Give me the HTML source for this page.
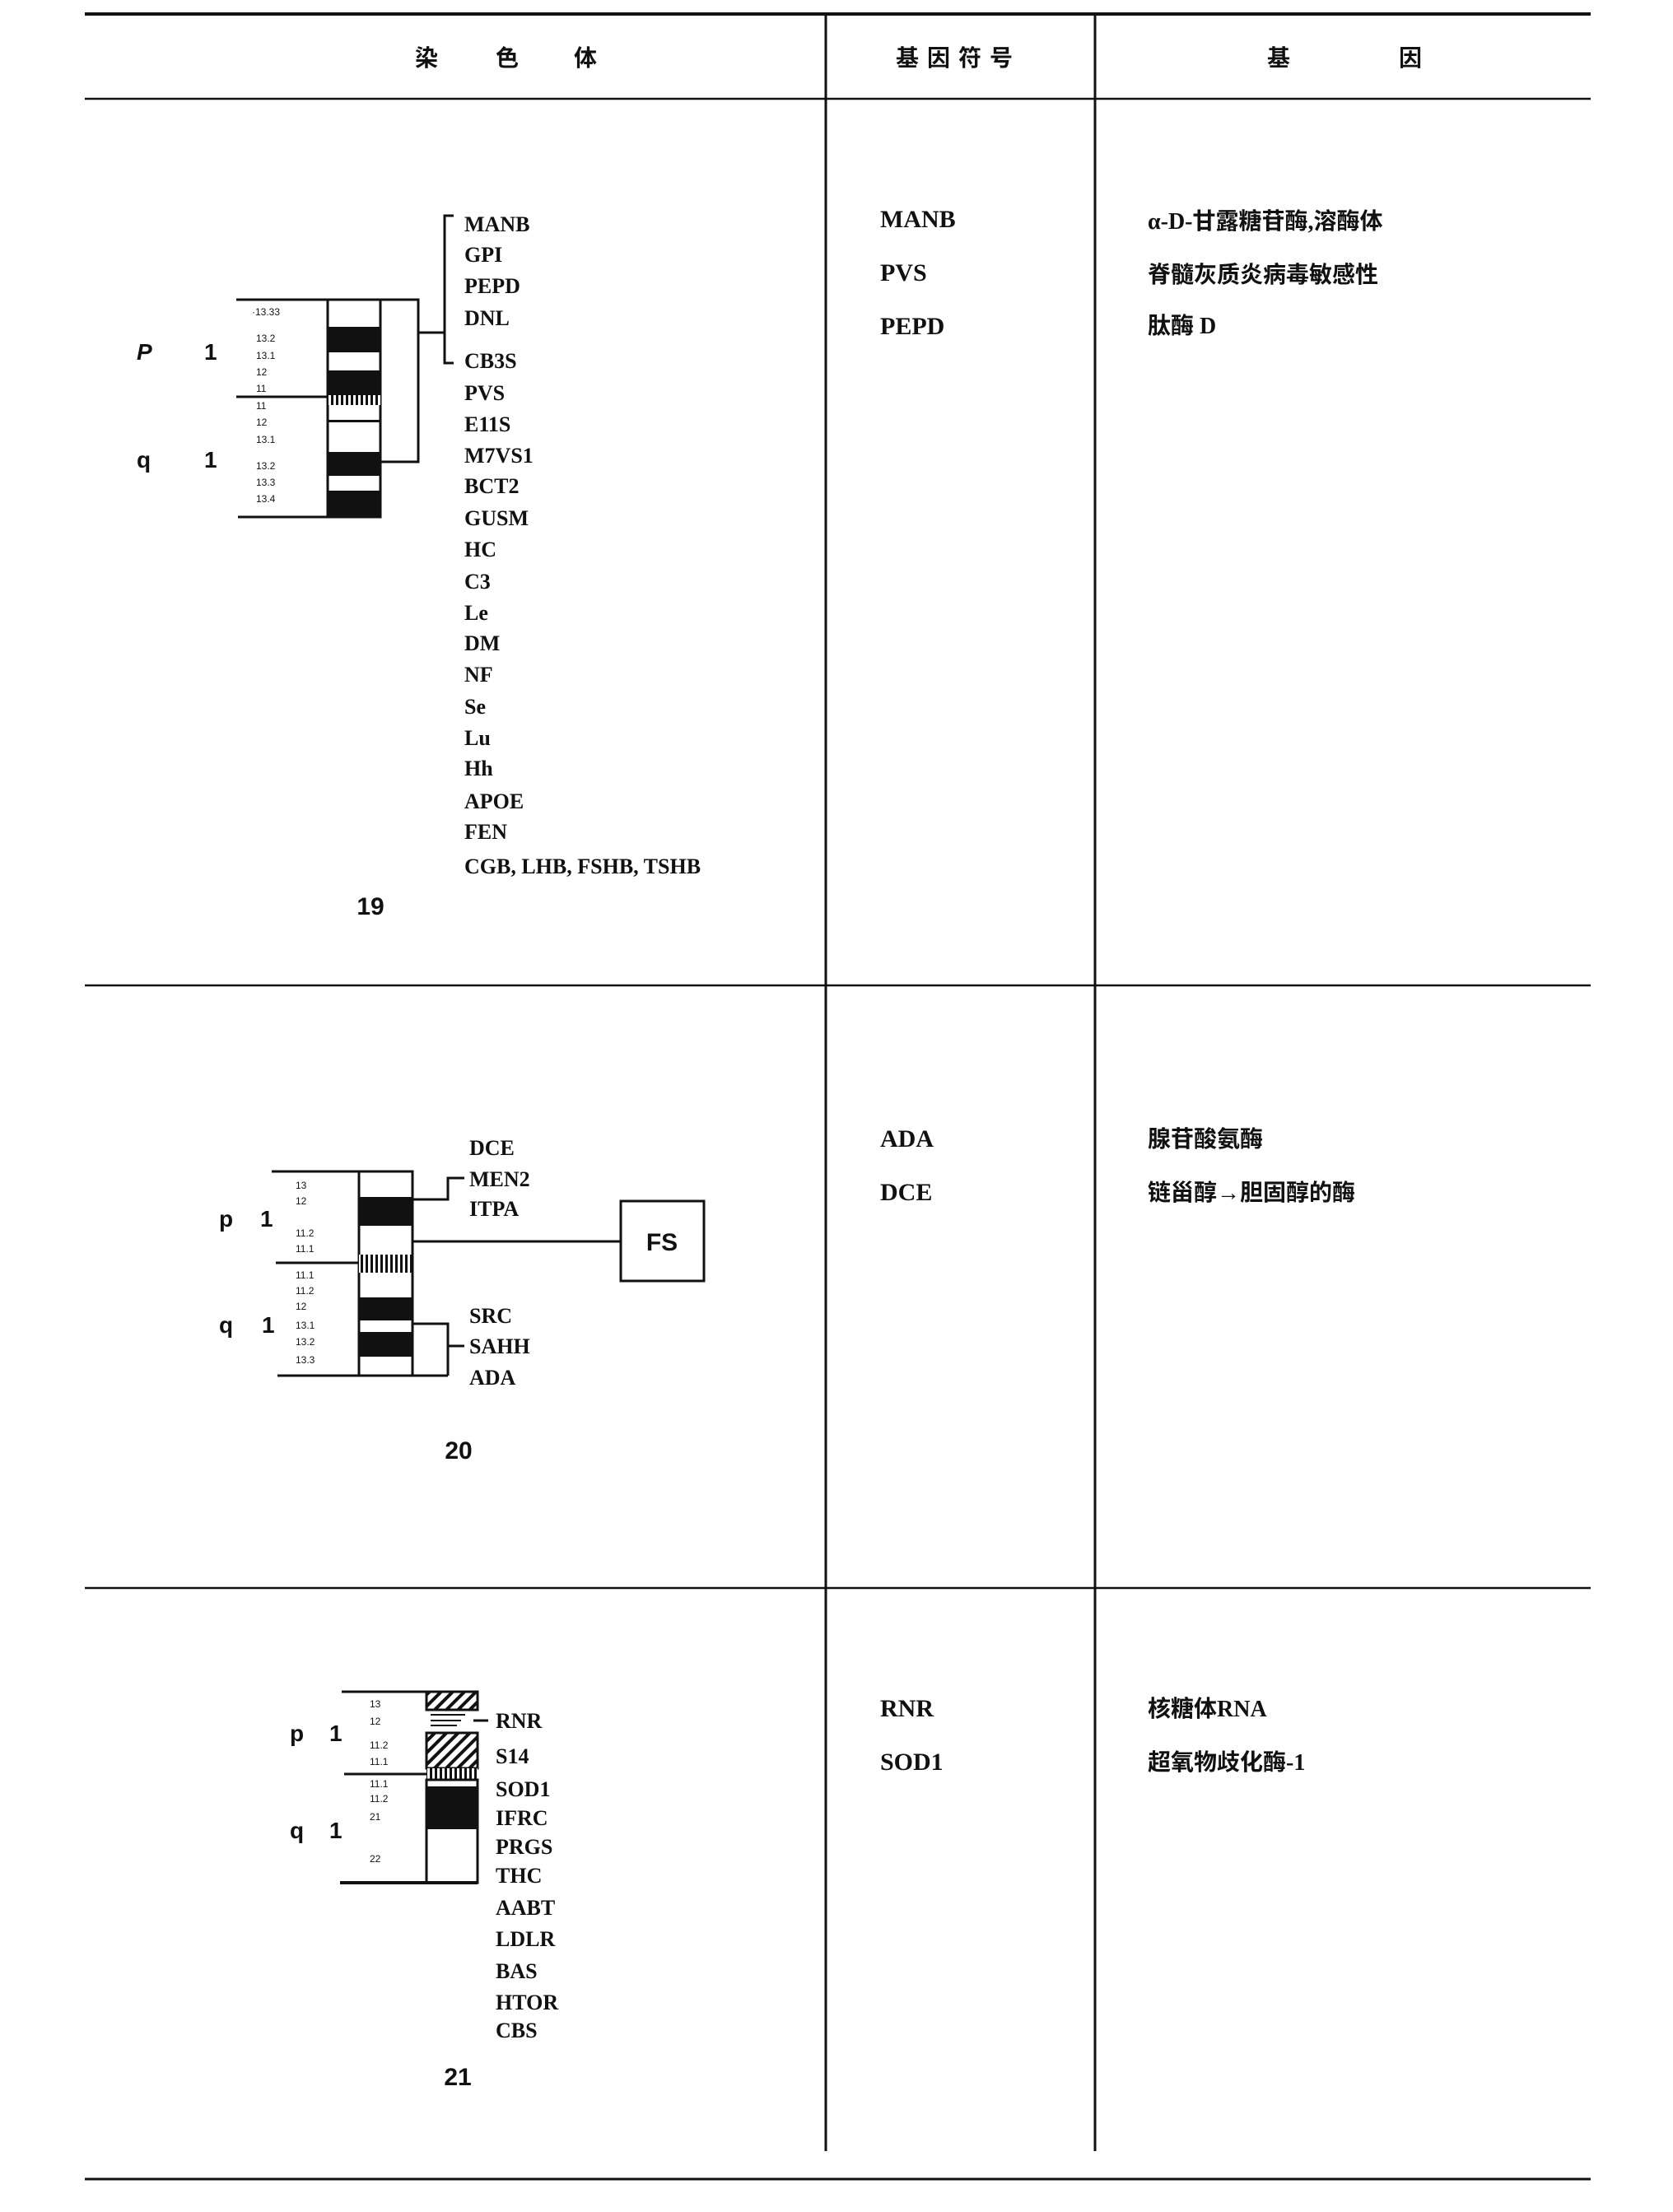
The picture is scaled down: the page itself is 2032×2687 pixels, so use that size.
<!DOCTYPE html>
<html><head><meta charset="utf-8"><style>
html,body{margin:0;padding:0;background:#fff}
svg{display:block}
.g{font-family:"Liberation Serif",serif;font-weight:bold;font-size:26px;fill:#111}
.s{font-family:"Liberation Serif",serif;font-weight:bold;font-size:30px;fill:#111}
.c{font-family:"Liberation Serif","Noto Sans CJK SC","Noto Serif CJK SC",serif;font-weight:bold;font-size:28px;fill:#111}
.b{font-family:"Liberation Sans",sans-serif;font-size:12px;fill:#111}
.pq{font-family:"Liberation Sans",sans-serif;font-weight:bold;font-size:28px;fill:#111}
.n{font-family:"Liberation Sans",sans-serif;font-weight:bold;font-size:30px;fill:#111}
</style></head><body>
<svg width="2032" height="2687" viewBox="0 0 2032 2687" xmlns="http://www.w3.org/2000/svg">
<defs>
<pattern id="hat" width="10" height="10" patternUnits="userSpaceOnUse" patternTransform="rotate(45)"><rect width="10" height="10" fill="#fff"/><rect width="4" height="10" fill="#111"/></pattern>
<pattern id="vs" width="6" height="10" patternUnits="userSpaceOnUse"><rect width="6" height="10" fill="#fff"/><rect width="3" height="10" fill="#111"/></pattern>
</defs>
<g stroke="#111" fill="none">
<line x1="103" y1="17" x2="1932" y2="17" stroke-width="4"/>
<line x1="103" y1="120" x2="1932" y2="120" stroke-width="2.5"/>
<line x1="1003" y1="17" x2="1003" y2="2613" stroke-width="3"/>
<line x1="1330" y1="17" x2="1330" y2="2613" stroke-width="3"/>
<line x1="103" y1="1197" x2="1932" y2="1197" stroke-width="2.5"/>
<line x1="103" y1="1929" x2="1932" y2="1929" stroke-width="2.5"/>
<line x1="103" y1="2647" x2="1932" y2="2647" stroke-width="3"/>
</g>
<text class="c" x="518" y="80" text-anchor="middle">染</text>
<text class="c" x="616" y="80" text-anchor="middle">色</text>
<text class="c" x="711" y="80" text-anchor="middle">体</text>
<text class="c" x="1164" y="80" text-anchor="middle" letter-spacing="10">基因符号</text>
<text class="c" x="1553" y="80" text-anchor="middle">基</text>
<text class="c" x="1713" y="80" text-anchor="middle">因</text>

<!-- Chr 19 -->
<g fill="#111">
<rect x="398" y="364" width="64" height="264" fill="#fff" stroke="#111" stroke-width="3"/>
<rect x="398" y="397" width="64" height="31"/>
<rect x="398" y="450" width="64" height="30"/>
<rect x="398" y="480" width="64" height="12" fill="url(#vs)"/>
<rect x="398" y="510" width="64" height="3"/>
<rect x="398" y="549" width="64" height="29"/>
<rect x="398" y="596" width="64" height="32"/>
</g>
<g stroke="#111" stroke-width="3" fill="none">
<polyline points="287,364 508,364 508,561 462,561"/>
<line x1="287" y1="482" x2="398" y2="482"/>
<line x1="289" y1="628" x2="462" y2="628"/>
<line x1="508" y1="404" x2="540" y2="404"/>
<polyline points="551,262 540,262 540,441 551,441"/>
</g>
<text class="pq" x="166" y="437" font-style="italic">P</text><text class="pq" x="248" y="437" font-size="22">1</text>
<text class="pq" x="166" y="568">q</text><text class="pq" x="248" y="568" font-size="22">1</text>
<g class="b">
<text x="306" y="383">·13.33</text><text x="311" y="415">13.2</text><text x="311" y="436">13.1</text><text x="311" y="456">12</text><text x="311" y="476">11</text>
<text x="311" y="497">11</text><text x="311" y="517">12</text><text x="311" y="538">13.1</text><text x="311" y="570">13.2</text><text x="311" y="590">13.3</text><text x="311" y="610">13.4</text>
</g>
<g class="g">
<text x="564" y="281">MANB</text><text x="564" y="318">GPI</text><text x="564" y="356">PEPD</text><text x="564" y="395">DNL</text>
<text x="564" y="447">CB3S</text><text x="564" y="486">PVS</text><text x="564" y="524">E11S</text><text x="564" y="562">M7VS1</text>
<text x="564" y="599">BCT2</text><text x="564" y="638">GUSM</text><text x="564" y="676">HC</text><text x="564" y="715">C3</text>
<text x="564" y="753">Le</text><text x="564" y="790">DM</text><text x="564" y="828">NF</text><text x="564" y="867">Se</text>
<text x="564" y="905">Lu</text><text x="564" y="942">Hh</text><text x="564" y="982">APOE</text><text x="564" y="1019">FEN</text>
<text x="564" y="1061">CGB, LHB, FSHB, TSHB</text>
</g>
<text class="n" x="450" y="1111" text-anchor="middle">19</text>
<text class="s" x="1069" y="276">MANB</text><text class="s" x="1069" y="341">PVS</text><text class="s" x="1069" y="406">PEPD</text>
<text class="c" x="1394" y="278">α-D-甘露糖苷酶,溶酶体</text>
<text class="c" x="1394" y="343">脊髓灰质炎病毒敏感性</text>
<text class="c" x="1394" y="405">肽酶 D</text>

<!-- Chr 20 -->
<g fill="#111">
<rect x="436" y="1423" width="65" height="248" fill="#fff" stroke="#111" stroke-width="3"/>
<rect x="436" y="1454" width="65" height="35"/>
<rect x="436" y="1524" width="65" height="22" fill="url(#vs)"/>
<rect x="436" y="1576" width="65" height="28"/>
<rect x="436" y="1618" width="65" height="30"/>
</g>
<g stroke="#111" stroke-width="3" fill="none">
<line x1="330" y1="1423" x2="501" y2="1423"/>
<line x1="335" y1="1534" x2="436" y2="1534"/>
<line x1="337" y1="1671" x2="544" y2="1671"/>
<polyline points="501,1608 544,1608 544,1671"/>
<line x1="544" y1="1635" x2="564" y2="1635"/>
<polyline points="501,1457 544,1457 544,1431 564,1431"/>
<line x1="501" y1="1508" x2="754" y2="1508"/>
<rect x="754" y="1459" width="101" height="97"/>
</g>
<text class="n" x="804" y="1519" text-anchor="middle" font-size="26">FS</text>
<text class="pq" x="266" y="1490">p</text><text class="pq" x="316" y="1490" font-size="22">1</text>
<text class="pq" x="266" y="1619">q</text><text class="pq" x="318" y="1619" font-size="22">1</text>
<g class="b">
<text x="359" y="1444">13</text><text x="359" y="1463">12</text><text x="359" y="1502">11.2</text><text x="359" y="1521">11.1</text>
<text x="359" y="1553">11.1</text><text x="359" y="1572">11.2</text><text x="359" y="1591">12</text><text x="359" y="1614">13.1</text>
<text x="359" y="1634">13.2</text><text x="359" y="1656">13.3</text>
</g>
<g class="g">
<text x="570" y="1403">DCE</text><text x="570" y="1441">MEN2</text><text x="570" y="1477">ITPA</text>
<text x="570" y="1607">SRC</text><text x="570" y="1644">SAHH</text><text x="570" y="1682">ADA</text>
</g>
<text class="n" x="557" y="1772" text-anchor="middle">20</text>
<text class="s" x="1069" y="1393">ADA</text><text class="s" x="1069" y="1458">DCE</text>
<text class="c" x="1394" y="1393">腺苷酸氨酶</text>
<text class="c" x="1394" y="1458">链甾醇→胆固醇的酶</text>

<!-- Chr 21 -->
<g fill="#111">
<rect x="518" y="2055" width="62" height="22" fill="url(#hat)" stroke="#111" stroke-width="3"/>
<rect x="518" y="2105" width="62" height="43" fill="url(#hat)" stroke="#111" stroke-width="3"/>
<rect x="518" y="2148" width="62" height="14" fill="url(#vs)"/>
<rect x="518" y="2162" width="62" height="125" fill="#fff" stroke="#111" stroke-width="3"/>
<rect x="518" y="2170" width="62" height="52"/>
</g>
<g stroke="#111" fill="none">
<line x1="415" y1="2055" x2="580" y2="2055" stroke-width="3"/>
<line x1="523" y1="2083" x2="565" y2="2083" stroke-width="2"/>
<line x1="523" y1="2090" x2="560" y2="2090" stroke-width="2"/>
<line x1="523" y1="2096" x2="555" y2="2096" stroke-width="2"/>
<line x1="575" y1="2090" x2="593" y2="2090" stroke-width="3"/>
<line x1="418" y1="2155" x2="518" y2="2155" stroke-width="3"/>
<line x1="413" y1="2287" x2="580" y2="2287" stroke-width="4"/>
</g>
<text class="pq" x="352" y="2115">p</text><text class="pq" x="400" y="2115" font-size="24">1</text>
<text class="pq" x="352" y="2233">q</text><text class="pq" x="400" y="2233" font-size="24">1</text>
<g class="b">
<text x="449" y="2074">13</text><text x="449" y="2095">12</text><text x="449" y="2124">11.2</text><text x="449" y="2144">11.1</text>
<text x="449" y="2171">11.1</text><text x="449" y="2189">11.2</text><text x="449" y="2211">21</text><text x="449" y="2262">22</text>
</g>
<g class="g">
<text x="602" y="2099">RNR</text><text x="602" y="2142">S14</text><text x="602" y="2182">SOD1</text><text x="602" y="2217">IFRC</text>
<text x="602" y="2252">PRGS</text><text x="602" y="2287">THC</text><text x="602" y="2326">AABT</text><text x="602" y="2364">LDLR</text>
<text x="602" y="2403">BAS</text><text x="602" y="2441">HTOR</text><text x="602" y="2475">CBS</text>
</g>
<text class="n" x="556" y="2533" text-anchor="middle">21</text>
<text class="s" x="1069" y="2085">RNR</text><text class="s" x="1069" y="2150">SOD1</text>
<text class="c" x="1394" y="2085">核糖体RNA</text>
<text class="c" x="1394" y="2150">超氧物歧化酶-1</text>
</svg>
</body></html>
